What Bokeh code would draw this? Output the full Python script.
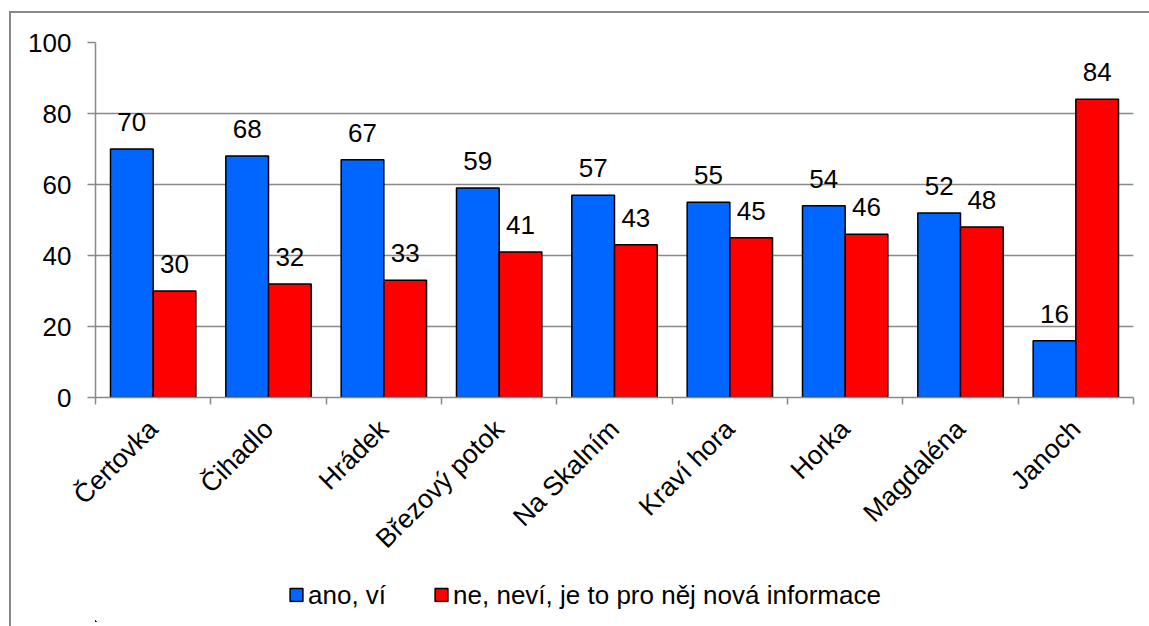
from bokeh.plotting import figure
from bokeh.layouts import column
from bokeh.models import (ColumnDataSource, FixedTicker, Legend, LegendItem,
                          Range1d)
from bokeh.core.properties import value
from bokeh.embed import file_html
from bokeh.resources import INLINE
import math

categories = ["Čertovka", "Čihadlo", "Hrádek", "Březový potok", "Na Skalním",
              "Kraví hora", "Horka", "Magdaléna", "Janoch"]
ano_vi = [70, 68, 67, 59, 57, 55, 54, 52, 16]
ne_nevi = [30, 32, 33, 41, 43, 45, 46, 48, 84]
series_names = ["ano, ví", "ne, neví, je to pro něj nová informace"]
y_ticks = [0, 20, 40, 60, 80, 100]

FONT = "Liberation Sans"
BLUE = "#0066FF"
RED = "#FF0000"
GRAY = "#898989"
BW = 0.37

centers = [i + 0.5 for i in range(len(categories))]
src_a = ColumnDataSource(dict(x=[c - BW / 2 for c in centers], top=ano_vi,
                              lab=[str(v) for v in ano_vi]))
src_n = ColumnDataSource(dict(x=[c + BW / 2 for c in centers], top=ne_nevi,
                              lab=[str(v) for v in ne_nevi]))

p = figure(width=1138, height=555, output_backend="svg", toolbar_location=None,
           x_range=Range1d(0, len(categories)), y_range=Range1d(0, 100),
           min_border_left=84, min_border_right=16, min_border_top=29,
           min_border_bottom=171)
p.outline_line_color = None
p.background_fill_color = "white"
p.border_fill_color = "white"

p.vbar(x="x", top="top", width=BW, source=src_a, fill_color=BLUE,
       line_color="black", line_width=1.5)
p.vbar(x="x", top="top", width=BW, source=src_n, fill_color=RED,
       line_color="black", line_width=1.5)

for src in (src_a, src_n):
    p.text(x="x", y="top", text="lab", source=src, text_align="center",
           text_baseline="alphabetic", y_offset=-27, text_font=value(FONT),
           text_font_size="26px", text_color="black")

# y axis
p.yaxis.ticker = FixedTicker(ticks=y_ticks)
p.yaxis.axis_line_color = GRAY
p.yaxis.axis_line_width = 1.5
p.yaxis.major_tick_line_color = GRAY
p.yaxis.major_tick_line_width = 1.5
p.yaxis.major_tick_out = 8
p.yaxis.major_tick_in = 0
p.yaxis.minor_tick_line_color = None
p.yaxis.major_label_standoff = 16
p.yaxis.major_label_text_font = FONT
p.yaxis.major_label_text_font_size = "26px"
p.yaxis.major_label_text_color = "black"

# x axis
p.xaxis.ticker = FixedTicker(ticks=centers,
                             minor_ticks=list(range(len(categories) + 1)))
p.xaxis.major_label_overrides = {c: n for c, n in zip(centers, categories)}
p.xaxis.axis_line_color = GRAY
p.xaxis.axis_line_width = 1.5
p.xaxis.major_tick_line_color = None
p.xaxis.major_tick_out = 0
p.xaxis.major_tick_in = 0
p.xaxis.minor_tick_line_color = GRAY
p.xaxis.minor_tick_line_width = 1.5
p.xaxis.minor_tick_out = 7
p.xaxis.minor_tick_in = 0
p.xaxis.major_label_orientation = math.pi / 4
p.xaxis.major_label_standoff = 20
p.xaxis.major_label_text_font = FONT
p.xaxis.major_label_text_font_size = "26.5px"
p.xaxis.major_label_text_color = "black"

p.xgrid.grid_line_color = None
p.ygrid.ticker = FixedTicker(ticks=y_ticks)
p.ygrid.grid_line_color = GRAY
p.ygrid.grid_line_width = 1.5

# legend strip (separate small figure so the legend is not clipped);
# its ranges lie away from the data so only the legend swatches show
pl = figure(width=1138, height=58, output_backend="svg", toolbar_location=None,
            x_range=Range1d(30, 39), y_range=Range1d(200, 300),
            x_axis_location=None, y_axis_location=None,
            min_border_left=84, min_border_right=16, min_border_top=0,
            min_border_bottom=5)
pl.outline_line_color = None
pl.grid.visible = False
la = pl.vbar(x="x", top="top", width=BW, source=src_a, fill_color=BLUE,
             line_color="black", line_width=1.5)
ln = pl.vbar(x="x", top="top", width=BW, source=src_n, fill_color=RED,
             line_color="black", line_width=1.5)
legend = Legend(items=[LegendItem(label=series_names[0], renderers=[la]),
                       LegendItem(label=series_names[1], renderers=[ln])],
                orientation="horizontal", location="left",
                padding=0, margin=193, spacing=47, label_standoff=4,
                glyph_width=16, glyph_height=16,
                label_text_font=FONT, label_text_font_size="26px",
                label_text_color="black",
                border_line_color=None, background_fill_alpha=0)
pl.add_layout(legend, "center")

layout = column(p, pl, spacing=0,
                styles={"border-left": f"2px solid {GRAY}",
                        "border-top": f"2px solid {GRAY}",
                        "margin-left": "9px", "margin-top": "11px"})

open("out.html", "w").write(file_html(layout, INLINE))
